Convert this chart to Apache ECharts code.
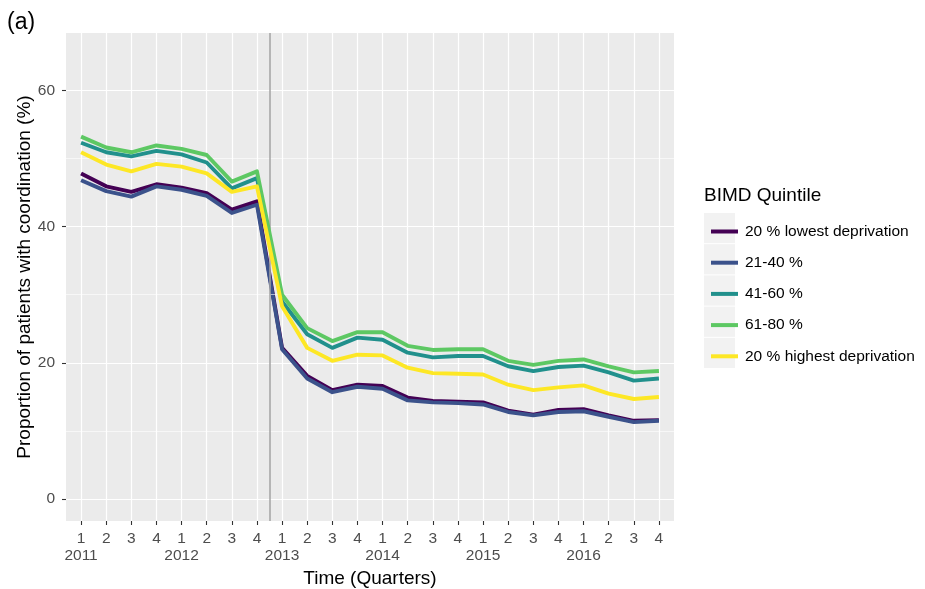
<!DOCTYPE html>
<html>
<head>
<meta charset="utf-8">
<script src="https://cdn.jsdelivr.net/npm/echarts@6/dist/echarts.min.js"></script>
<style>
html,body{margin:0;padding:0;background:#fff;}
#c{width:925px;height:589px;}
</style>
</head>
<body>
<div id="c"></div>
<script>
// ---- data ----
var quarters = ['1','2','3','4','1','2','3','4','1','2','3','4','1','2','3','4','1','2','3','4','1','2','3','4'];
var years = ['2011','','','','2012','','','','2013','','','','2014','','','','2015','','','','2016','','',''];
var seriesNames = ['20 % lowest deprivation','21-40 %','41-60 %','61-80 %','20 % highest deprivation'];
var q1 = [47.8,45.9,45.1,46.2,45.7,44.9,42.5,43.7,22.2,18.1,16.0,16.8,16.6,14.9,14.4,14.3,14.2,13.0,12.4,13.1,13.2,12.3,11.5,11.6];
var q2 = [46.8,45.2,44.4,45.9,45.4,44.5,42.0,43.2,22.0,17.7,15.7,16.5,16.2,14.5,14.2,14.1,13.9,12.8,12.3,12.8,12.9,12.1,11.3,11.5];
var q3 = [52.3,50.9,50.3,51.1,50.6,49.4,45.6,47.1,29.0,24.2,22.2,23.7,23.4,21.5,20.8,21.0,21.0,19.5,18.8,19.4,19.6,18.6,17.4,17.7];
var q4 = [53.2,51.6,50.9,51.9,51.4,50.5,46.6,48.1,30.0,25.1,23.2,24.5,24.5,22.5,21.9,22.0,22.0,20.3,19.7,20.3,20.5,19.5,18.6,18.8];
var q5 = [50.9,49.1,48.1,49.2,48.8,47.8,45.1,45.9,28.3,22.2,20.3,21.2,21.1,19.3,18.5,18.4,18.3,16.8,16.0,16.4,16.7,15.5,14.7,15.0];
var yTicks = [0,20,40,60];
var yMinor = [10,30,50];
var breakPoint = 7.5; // between 2012 Q4 and 2013 Q1

var colors = ['#440154','#3B528B','#21908C','#5DC863','#FDE725'];
var allData = [q1,q2,q3,q4,q5];
var xIdx = quarters.map(function(_,i){return i;});

var chart = echarts.init(document.getElementById('c'), null, {renderer:'canvas'});

var series = allData.map(function(arr, k){
  return {
    name: seriesNames[k],
    type: 'line',
    data: arr.map(function(v,i){return [i,v];}),
    showSymbol: false,
    symbol: 'none',
    lineStyle: {width: 3.9, color: colors[k], cap: 'butt', join: 'round'},
    itemStyle: {color: colors[k]},
    emphasis: {disabled: true},
    silent: true,
    z: 3 + k
  };
});
series.unshift({
  name: 'aux',
  type: 'line',
  data: [],
  silent: true,
  z: 1,
  markLine: {
    silent: true,
    symbol: ['none','none'],
    animation: false,
    label: {show: false},
    lineStyle: {color: '#ffffff', width: 0.6, type: 'solid'},
    data: yMinor.map(function(v){return {yAxis: v};})
  }
});
series.push({
  name: 'vline',
  type: 'line',
  data: [],
  silent: true,
  z: 2,
  markLine: {
    silent: true,
    symbol: ['none','none'],
    animation: false,
    label: {show: false},
    lineStyle: {color: '#A3A3A3', width: 1.5, type: 'solid'},
    data: [{xAxis: breakPoint}]
  }
});

var legendTop = 216.5, rowH = 31.2;
var keyRects = seriesNames.map(function(n,k){
  return {type:'rect', shape:{x:704, y:213 + k*rowH, width:31, height:rowH-1}, style:{fill:'#F2F2F2'}, z:0, silent:true};
});
var FF = 'Liberation Sans, Arial, sans-serif';

var option = {
  animation: false,
  backgroundColor: '#ffffff',
  textStyle: {fontFamily: FF},
  grid: {left: 66, right: 251, top: 33, bottom: 68, show: true, backgroundColor: '#EBEBEB', borderWidth: 0, containLabel: false, outerBoundsMode: 'none'},
  xAxis: {
    type: 'value',
    min: -0.6, max: 23.6,
    name: 'Time (Quarters)',
    nameLocation: 'middle',
    nameGap: 46,
    nameTextStyle: {fontSize: 19, color: '#000000', fontFamily: FF},
    axisLine: {show: false, onZero: false},
    axisTick: {show: true, length: 4, lineStyle: {color: '#333333', width: 1.1}, customValues: xIdx},
    axisLabel: {
      customValues: xIdx,
      color: '#4D4D4D', fontSize: 15.5, margin: 9, lineHeight: 17,
      fontFamily: FF,
      formatter: function(v){ var i = Math.round(v); return quarters[i] + (years[i] ? '\n' + years[i] : ''); }
    },
    splitLine: {show: true, lineStyle: {color: '#ffffff', width: 1.2}}
  },
  yAxis: {
    type: 'value',
    min: -3.2, max: 68.4,
    name: 'Proportion of patients with coordination (%)',
    nameLocation: 'middle',
    nameGap: 32,
    nameMoveOverlap: false,
    nameTextStyle: {fontSize: 19, color: '#000000', fontFamily: FF},
    axisLine: {show: false, onZero: false},
    axisTick: {show: true, length: 4, lineStyle: {color: '#333333', width: 1.1}, customValues: yTicks},
    axisLabel: {customValues: yTicks, color: '#4D4D4D', fontSize: 15.5, margin: 11, fontFamily: FF},
    splitLine: {show: true, lineStyle: {color: '#ffffff', width: 1.2}}
  },
  legend: {
    data: seriesNames,
    orient: 'vertical',
    left: 706, top: legendTop,
    icon: 'rect',
    itemWidth: 27, itemHeight: 4,
    itemGap: rowH - 20,
    selectedMode: false,
    textStyle: {fontSize: 15.5, color: '#000000', lineHeight: 20, padding: [0,0,0,2], fontFamily: FF}
  },
  graphic: [
    {type:'text', left: 7, top: 11, style:{text:'(a)', fontSize: 23, fill:'#000', fontFamily: FF}},
    {type:'text', left: 704, top: 186, style:{text:'BIMD Quintile', fontSize: 19, fill:'#000', fontFamily: FF}}
  ].concat(keyRects),
  series: series
};
chart.setOption(option);
</script>
</body>
</html>
